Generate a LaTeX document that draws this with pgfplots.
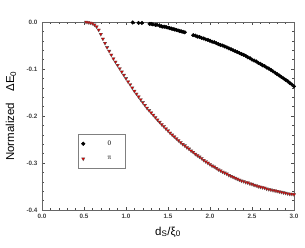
\documentclass[border=0pt]{standalone}
\usepackage{pgfplots}
\pgfplotsset{compat=1.18}
\usepackage{fontspec}
\setmainfont{Liberation Sans}
\newfontfamily\serifnum{Liberation Serif}
\begin{document}
\begin{tikzpicture}[x=1pt,y=1pt]
\path (-42,-38) rectangle (263,210);
\begin{axis}[
  at={(0,0)}, anchor=south west,
  scale only axis, width=252pt, height=188pt,
  xmin=0, xmax=3.0, ymin=-0.4, ymax=0.0,
  xtick={0,0.5,...,3.0}, ytick={-0.4,-0.3,-0.2,-0.1,0},
  minor x tick num=4, minor y tick num=4,
  tick align=inside, tick pos=both,
  major tick length=3pt, minor tick length=2pt,
  axis line style={gray!80!black, line width=0.6pt},
  every tick/.style={gray!60!black, line width=0.5pt},
  tick label style={font=\fontsize{6.3}{7}\selectfont\bfseries, text=black!75},
  /pgf/number format/assume math mode=true,
  /pgf/number format/.cd, fixed, fixed zerofill, precision=1, /pgfplots/.cd,
  xticklabel style={yshift=-1pt},
  yticklabel style={xshift=-1pt},
  xlabel={d\textsubscript{S}/ξ\textsubscript{0}},
  ylabel={Normalized\hspace{0.7em} ΔE\textsubscript{0}},
  label style={font=\fontsize{11.5}{13}\selectfont},
  xlabel style={at={(axis description cs:0.5,0)}, anchor=center, yshift=-22pt},
  ylabel style={at={(axis description cs:0,0.5)}, anchor=center, yshift=31pt},
  legend style={at={(axis cs:0.4286,-0.2383)}, anchor=north west,
    draw=gray, line width=0.5pt, font=\fontsize{7}{8}\selectfont,
    inner xsep=3.2pt, inner ysep=2pt, row sep=0pt, column sep=0pt,
    nodes={inner sep=0pt, minimum height=15pt}, cells={anchor=west}},
  legend image code/.code={\draw[#1] plot coordinates {(0pt,0pt)};},
]
\addplot[only marks, mark=*, mark size=1.8pt, black] coordinates {
(1.08,-0.001)(1.15,-0.002)(1.19,-0.002)(1.28,-0.004)(1.30,-0.004)(1.32,-0.005)
(1.35,-0.006)(1.37,-0.006)(1.40,-0.008)(1.42,-0.009)(1.44,-0.010)(1.46,-0.010)
(1.48,-0.011)(1.50,-0.012)(1.52,-0.013)(1.54,-0.014)(1.56,-0.015)(1.58,-0.016)
(1.60,-0.017)(1.62,-0.018)(1.64,-0.019)(1.66,-0.020)(1.68,-0.021)(1.70,-0.022)
(1.80,-0.028)(1.825,-0.029)(1.85,-0.031)(1.875,-0.032)(1.90,-0.034)(1.925,-0.035)
(1.95,-0.037)(1.975,-0.038)(2.00,-0.040)(2.025,-0.042)(2.05,-0.043)(2.075,-0.045)
(2.10,-0.047)(2.125,-0.049)(2.15,-0.050)(2.175,-0.052)(2.20,-0.054)(2.225,-0.056)
(2.25,-0.058)(2.275,-0.060)(2.30,-0.062)(2.325,-0.064)(2.35,-0.066)(2.375,-0.068)
(2.40,-0.070)(2.425,-0.072)(2.45,-0.075)(2.475,-0.077)(2.50,-0.080)(2.525,-0.082)
(2.55,-0.084)(2.575,-0.087)(2.60,-0.089)(2.625,-0.092)(2.65,-0.094)(2.675,-0.097)
(2.70,-0.099)(2.725,-0.102)(2.75,-0.105)(2.775,-0.108)(2.80,-0.111)(2.825,-0.114)
(2.85,-0.117)(2.875,-0.120)(2.90,-0.123)(2.925,-0.126)(2.95,-0.130)(2.975,-0.133)
(3.00,-0.137)
};
\addlegendentry{\makebox[37pt][l]{\hspace{22.5pt}{\serifnum 0}}}
\addplot[only marks, mark=triangle*, mark size=2pt,
  mark options={rotate=180, fill=red!85!black, draw=gray!70!black, line width=0.3pt}] coordinates {
(0.525,0.000)(0.55,-0.001)(0.575,-0.002)(0.60,-0.003)(0.625,-0.006)(0.65,-0.010)
(0.675,-0.017)(0.70,-0.026)(0.725,-0.036)(0.75,-0.045)(0.775,-0.054)(0.80,-0.062)
(0.825,-0.070)(0.85,-0.078)(0.875,-0.085)(0.90,-0.092)(0.925,-0.099)(0.95,-0.106)
(0.975,-0.113)(1.00,-0.120)(1.025,-0.127)(1.05,-0.133)(1.075,-0.140)(1.10,-0.147)
(1.125,-0.153)(1.15,-0.159)(1.175,-0.165)(1.20,-0.171)(1.225,-0.177)(1.25,-0.183)
(1.275,-0.188)(1.30,-0.193)(1.325,-0.198)(1.35,-0.203)(1.375,-0.208)(1.40,-0.213)
(1.425,-0.218)(1.45,-0.222)(1.475,-0.227)(1.50,-0.231)(1.525,-0.236)(1.55,-0.240)
(1.575,-0.244)(1.60,-0.248)(1.625,-0.252)(1.65,-0.256)(1.675,-0.260)(1.70,-0.263)
(1.725,-0.267)(1.75,-0.270)(1.775,-0.274)(1.80,-0.277)(1.825,-0.281)(1.85,-0.284)
(1.875,-0.287)(1.90,-0.290)(1.925,-0.294)(1.95,-0.297)(1.975,-0.300)(2.00,-0.303)
(2.025,-0.306)(2.05,-0.308)(2.075,-0.311)(2.10,-0.314)(2.125,-0.316)(2.15,-0.319)
(2.175,-0.321)(2.20,-0.323)(2.225,-0.326)(2.25,-0.328)(2.275,-0.330)(2.30,-0.332)
(2.325,-0.334)(2.35,-0.336)(2.375,-0.338)(2.40,-0.339)(2.425,-0.341)(2.45,-0.342)
(2.475,-0.344)(2.50,-0.345)(2.525,-0.347)(2.55,-0.348)(2.575,-0.350)(2.60,-0.351)
(2.625,-0.352)(2.65,-0.353)(2.675,-0.355)(2.70,-0.356)(2.725,-0.357)(2.75,-0.358)
(2.775,-0.359)(2.80,-0.360)(2.825,-0.361)(2.85,-0.362)(2.875,-0.363)(2.90,-0.364)
(2.925,-0.365)(2.95,-0.366)(2.975,-0.366)(3.00,-0.367)
};
\addlegendentry{\makebox[37pt][l]{\hspace{22.5pt}{\serifnum π}}}
\end{axis}
\end{tikzpicture}
\end{document}
